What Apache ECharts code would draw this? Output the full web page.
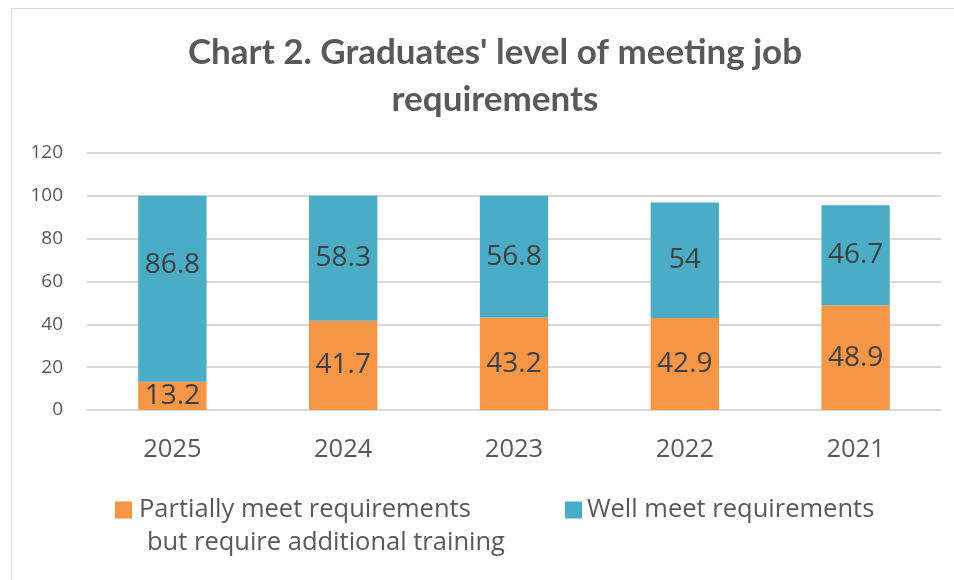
<!DOCTYPE html>
<html>
<head>
<meta charset="utf-8">
<script src="https://cdn.jsdelivr.net/npm/echarts@6/dist/echarts.min.js"></script>
<style>
  html, body { margin: 0; padding: 0; background: #fff; }
  #chart { width: 954px; height: 580px; }
</style>
</head>
<body>
<div id="chart"></div>
<script>
var years = ['2025', '2024', '2023', '2022', '2021'];
var partialName = 'Partially meet requirements';
var wellName = 'Well meet requirements';
var partialValues = [13.2, 41.7, 43.2, 42.9, 48.9];
var wellValues = [86.8, 58.3, 56.8, 54, 46.7];
var yTicks = { min: 0, max: 120, interval: 20 };

var textColor = '#595959';
var labelColor = '#404040';

var chart = echarts.init(document.getElementById('chart'));

var barLabel = {
  show: true,
  position: 'inside',
  color: labelColor,
  fontFamily: 'Open Sans',
  fontSize: 28
};

// the tall 2025 label sits a bit higher than the segment centre in the original
var wellData = wellValues.map(function(v, i) {
  if (i === 0) {
    return { value: v, label: { offset: [0, -24] } };
  }
  return v;
});

chart.setOption({
  animation: false,
  title: {
    text: "Chart 2. Graduates' level of meeting job\nrequirements",
    left: 490,
    textAlign: 'center',
    top: 24,
    textStyle: {
      color: textColor,
      fontFamily: 'Lato',
      fontWeight: 'bold',
      fontSize: 35,
      lineHeight: 47
    }
  },
  graphic: [
    {
      type: 'rect',
      shape: { x: 11.5, y: 8.5, width: 1000, height: 1000 },
      style: { fill: 'none', stroke: '#d9d9d9', lineWidth: 1 },
      silent: true
    },
    {
      type: 'text',
      left: 147,
      top: 530,
      style: {
        text: 'but require additional training',
        fill: textColor,
        fontFamily: 'Open Sans',
        fontSize: 25.5
      }
    }
  ],
  legend: [
    {
      data: [partialName],
      left: 115,
      top: 497,
      padding: 0,
      icon: 'rect',
      itemWidth: 17,
      itemHeight: 17,
      textStyle: { color: textColor, fontFamily: 'Open Sans', fontSize: 25.5, padding: [0, 0, 0, 2] }
    },
    {
      data: [wellName],
      left: 565,
      top: 497,
      padding: 0,
      icon: 'rect',
      itemWidth: 17,
      itemHeight: 17,
      textStyle: { color: textColor, fontFamily: 'Open Sans', fontSize: 25.5, padding: [0, 0, 0, 0] }
    }
  ],
  grid: {
    left: 87,
    right: 13,
    top: 153,
    bottom: 170
  },
  xAxis: {
    type: 'category',
    data: years,
    axisLine: { lineStyle: { color: '#d9d9d9', width: 2 } },
    axisTick: { show: false },
    axisLabel: { color: textColor, fontFamily: 'Open Sans', fontSize: 25.5, margin: 27 }
  },
  yAxis: {
    type: 'value',
    min: yTicks.min,
    max: yTicks.max,
    interval: yTicks.interval,
    axisLine: { show: false },
    axisTick: { show: false },
    axisLabel: { color: textColor, fontFamily: 'Open Sans', fontSize: 19, margin: 24 },
    splitLine: { lineStyle: { color: '#d9d9d9', width: 2 } }
  },
  series: [
    {
      name: partialName,
      type: 'bar',
      stack: 'total',
      barWidth: '40%',
      data: partialValues,
      itemStyle: { color: '#F79646' },
      label: barLabel
    },
    {
      name: wellName,
      type: 'bar',
      stack: 'total',
      barWidth: '40%',
      data: wellData,
      itemStyle: { color: '#4BACC6' },
      label: barLabel
    }
  ]
});
</script>
</body>
</html>
